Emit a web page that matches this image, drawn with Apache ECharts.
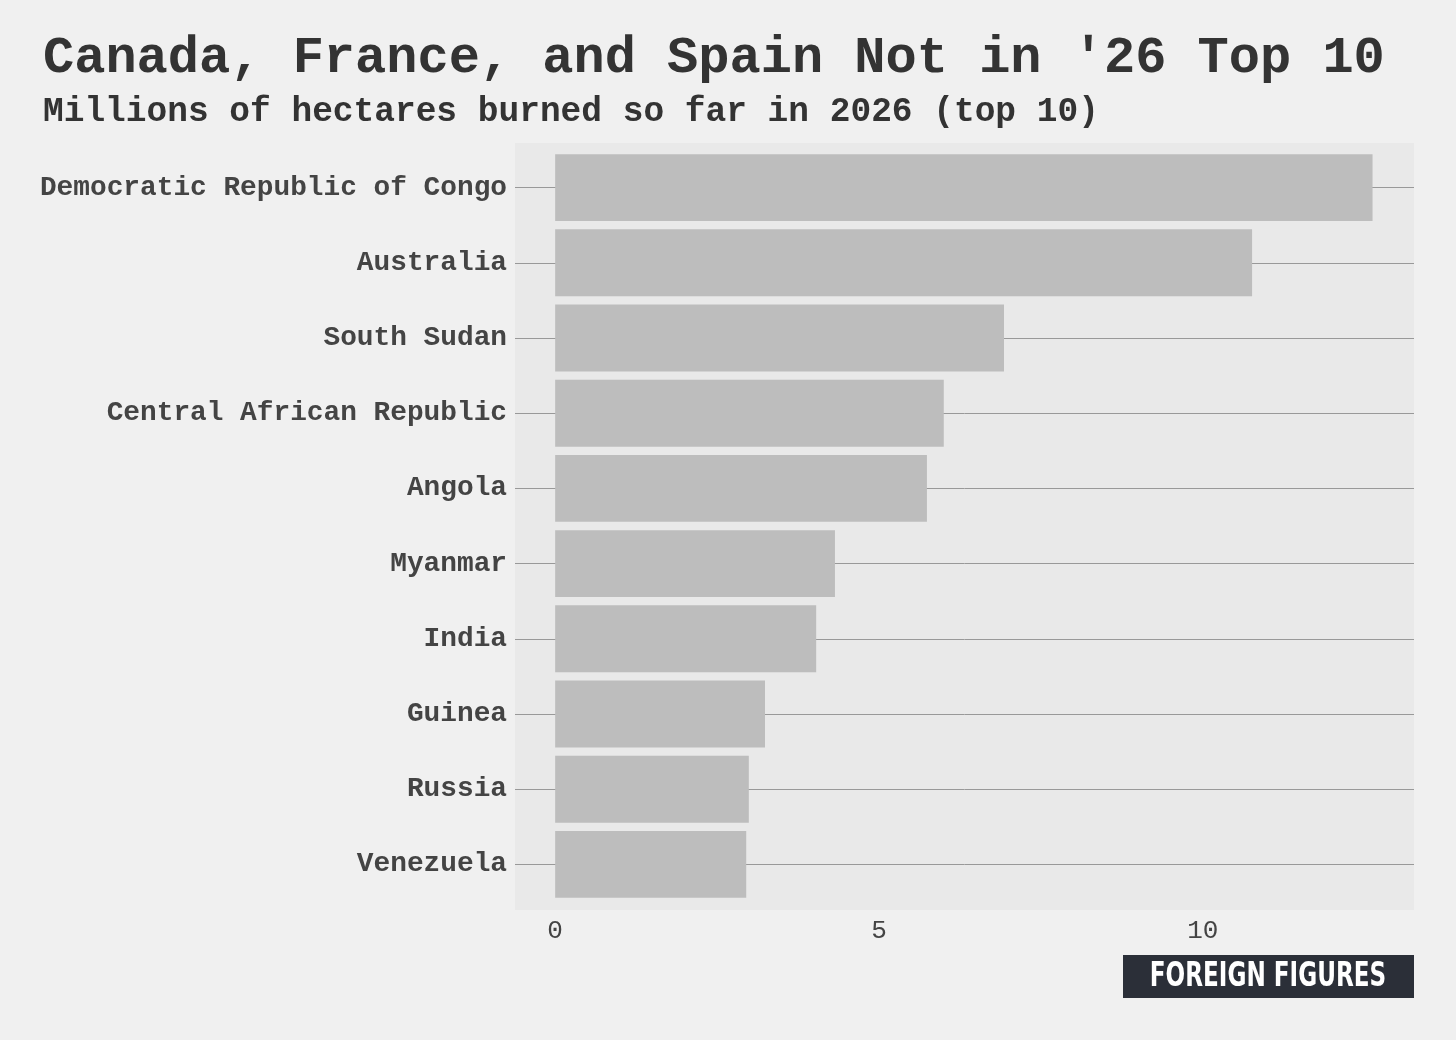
<!DOCTYPE html>
<html><head><meta charset="utf-8">
<script src="https://cdn.jsdelivr.net/npm/echarts@6/dist/echarts.min.js"></script>
<style>html,body{margin:0;padding:0;background:#f0f0f0}#chart{width:1456px;height:1040px}</style>
</head><body><div id="chart"></div>
<script>
// data, top to bottom
var countries = ['Democratic Republic of Congo', 'Australia', 'South Sudan', 'Central African Republic',
  'Angola', 'Myanmar', 'India', 'Guinea', 'Russia', 'Venezuela'];
var hectares = [12.62, 10.76, 6.93, 6.0, 5.74, 4.32, 4.03, 3.24, 2.99, 2.95];
var xTicks = [0, 5, 10];

var chart = echarts.init(document.getElementById('chart'));
var mono = '"Liberation Mono", "DejaVu Sans Mono", monospace';

var option = {
  backgroundColor: '#f0f0f0',
  title: [{
    text: "Canada, France, and Spain Not in '26 Top 10",
    left: 38, top: 28,
    textStyle: {fontFamily: mono, fontWeight: 'bold', fontSize: 52, color: '#333'}
  }, {
    text: 'Millions of hectares burned so far in 2026 (top 10)',
    left: 38, top: 90,
    textStyle: {fontFamily: mono, fontWeight: 'bold', fontSize: 34.5, color: '#333'}
  }],
  grid: {left: 515, right: 42, top: 150, bottom: 138},
  xAxis: {
    type: 'value', min: -0.62, max: 13.26,
    splitLine: {show: false}, axisLine: {show: false}, axisTick: {show: false},
    axisLabel: {customValues: xTicks, fontFamily: mono, fontSize: 26, color: '#444', margin: 16}
  },
  yAxis: {
    type: 'category', data: countries, inverse: true,
    axisLine: {show: false}, axisTick: {show: false},
    axisLabel: {fontFamily: mono, fontWeight: 'bold', fontSize: 27.8, color: '#444', margin: 8}
  },
  series: [{
    type: 'bar', data: hectares, barCategoryGap: '11%',
    itemStyle: {color: '#bdbdbd'}, silent: true, z: 3,
    markLine: {
      silent: true, symbol: 'none', label: {show: false}, z: 1,
      lineStyle: {color: '#999', width: 1, type: 'solid'},
      data: countries.map(function (c) { return {yAxis: c}; })
    }
  }],
  graphic: [{
    type: 'rect', left: 515, top: 143, z: -10, silent: true, shape: {width: 899, height: 767},
    style: {fill: '#e9e9e9'}
  }, {
    type: 'rect', left: 1123, top: 955, shape: {width: 291, height: 43},
    style: {fill: '#2b2f38'}
  }, {
    type: 'text', x: 1268, y: 977, scaleX: 0.68,
    style: {text: 'FOREIGN FIGURES', fill: '#fff', fontFamily: '"DejaVu Sans"', fontWeight: 'bold',
      fontSize: 34, align: 'center', verticalAlign: 'middle'}
  }]
};
chart.setOption(option);
</script></body></html>
